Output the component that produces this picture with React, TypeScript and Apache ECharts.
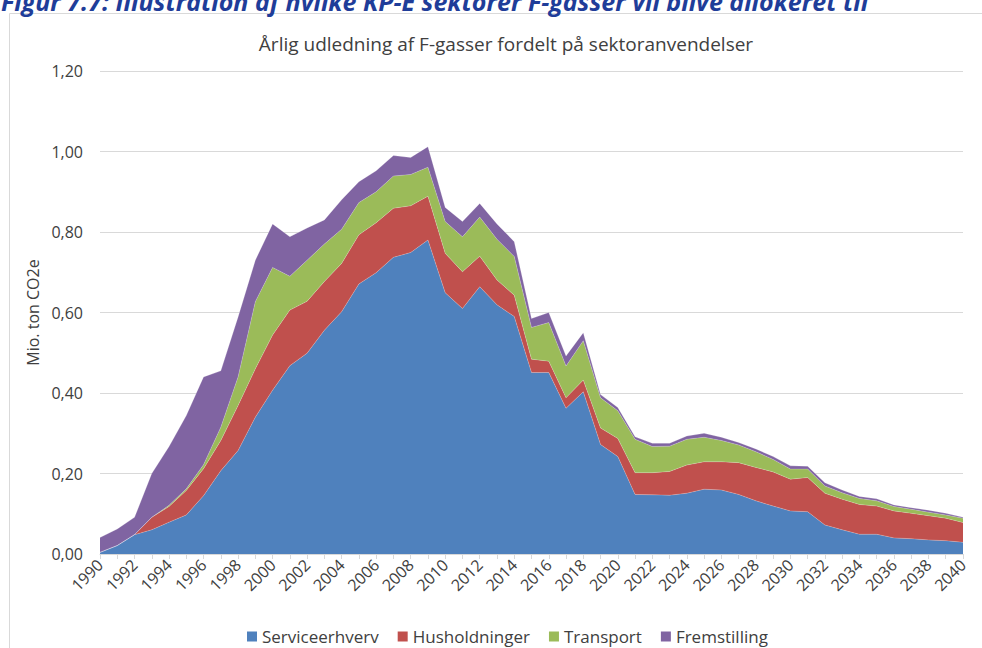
import React, { useEffect, useRef } from "react";
import * as echarts from "echarts";

const years: string[] = [];
for (let y = 1990; y <= 2040; y++) years.push(String(y));

const serviceerhverv = [
  0.004, 0.021, 0.048, 0.06, 0.079, 0.097, 0.145, 0.207, 0.257, 0.34,
  0.407, 0.468, 0.499, 0.556, 0.602, 0.671, 0.699, 0.737, 0.749, 0.78,
  0.649, 0.61, 0.664, 0.619, 0.59, 0.451, 0.451, 0.362, 0.403, 0.272,
  0.242, 0.148, 0.147, 0.146, 0.151, 0.161, 0.159, 0.148, 0.132, 0.119,
  0.107, 0.105, 0.072, 0.06, 0.049, 0.049, 0.04, 0.038, 0.035, 0.033, 0.029,
];
const husholdninger = [
  0, 0, 0, 0.031, 0.039, 0.061, 0.067, 0.075, 0.112, 0.12,
  0.137, 0.138, 0.129, 0.121, 0.12, 0.122, 0.124, 0.122, 0.116, 0.109,
  0.098, 0.091, 0.076, 0.062, 0.053, 0.033, 0.028, 0.026, 0.029, 0.041,
  0.045, 0.054, 0.055, 0.059, 0.07, 0.068, 0.07, 0.079, 0.083, 0.085,
  0.079, 0.085, 0.079, 0.076, 0.074, 0.07, 0.067, 0.063, 0.06, 0.056, 0.049,
];
const transport = [
  0, 0, 0, 0, 0.003, 0.004, 0.01, 0.033, 0.071, 0.167,
  0.168, 0.084, 0.102, 0.093, 0.085, 0.08, 0.077, 0.08, 0.078, 0.072,
  0.079, 0.087, 0.097, 0.101, 0.096, 0.079, 0.096, 0.079, 0.098, 0.075,
  0.069, 0.083, 0.065, 0.063, 0.064, 0.061, 0.053, 0.044, 0.039, 0.031,
  0.025, 0.021, 0.018, 0.016, 0.015, 0.013, 0.011, 0.01, 0.009, 0.008, 0.011,
];
const fremstilling = [
  0.037, 0.041, 0.043, 0.109, 0.146, 0.182, 0.218, 0.14, 0.149, 0.103,
  0.108, 0.098, 0.08, 0.06, 0.073, 0.052, 0.052, 0.051, 0.042, 0.051,
  0.035, 0.038, 0.034, 0.038, 0.037, 0.022, 0.025, 0.025, 0.02, 0.008,
  0.008, 0.006, 0.008, 0.007, 0.008, 0.01, 0.008, 0.006, 0.007, 0.007,
  0.008, 0.007, 0.008, 0.007, 0.005, 0.005, 0.004, 0.004, 0.005, 0.004, 0.002,
];

const seriesNames = ["Serviceerhverv", "Husholdninger", "Transport", "Fremstilling"];
const seriesData = [serviceerhverv, husholdninger, transport, fremstilling];
const colors = ["#4F81BD", "#C0504D", "#9BBB59", "#8064A2"];

const FONT = "'Open Sans', sans-serif";

export default function App() {
  const ref = useRef<HTMLDivElement>(null);
  useEffect(() => {
    if (!ref.current) return;
    const chart = echarts.init(ref.current, undefined, { renderer: "svg" });
    chart.setOption({
      animation: false,
      backgroundColor: "#ffffff",
      graphic: [
        {
          type: "rect",
          shape: { x: 9.5, y: 13.5, width: 1000, height: 700 },
          style: { fill: "none", stroke: "#D9D9D9", lineWidth: 1 },
          silent: true,
        },
        {
          type: "text",
          x: 1,
          y: 13,
          style: {
            text: "Figur 7.7: Illustration af hvilke KP-E sektorer F-gasser vil blive allokeret til",
            font: "italic bold 25px " + FONT,
            fill: "#1F3D99",
            verticalAlign: "bottom",
          },
        },
      ],
      title: {
        text: "Årlig udledning af F-gasser fordelt på sektoranvendelser",
        left: 501,
        top: 29,
        textAlign: "center",
        textStyle: { fontFamily: FONT, fontSize: 19, fontWeight: "normal", color: "#404040" },
      },
      legend: {
        data: seriesNames,
        left: 242,
        top: 623,
        icon: "rect",
        itemWidth: 10,
        itemHeight: 10,
        itemGap: 19,
        textStyle: { fontFamily: FONT, fontSize: 17, color: "#404040" },
      },
      grid: { left: 100, right: 19, top: 71, bottom: 94, containLabel: false },
      xAxis: {
        type: "category",
        data: years,
        boundaryGap: false,
        axisLine: { lineStyle: { color: "#D9D9D9" } },
        axisTick: { show: true, interval: 0, length: 5, lineStyle: { color: "#D9D9D9" } },
        axisLabel: {
          interval: 1,
          rotate: 45,
          fontFamily: FONT,
          fontSize: 16,
          color: "#404040",
          margin: 8,
        },
      },
      yAxis: {
        type: "value",
        min: 0,
        max: 1.2,
        interval: 0.2,
        name: "Mio. ton CO2e",
        nameLocation: "middle",
        nameGap: 53,
        nameTextStyle: { fontFamily: FONT, fontSize: 16, color: "#404040" },
        axisLine: { show: false },
        axisTick: { show: false },
        splitLine: { lineStyle: { color: "#D9D9D9" } },
        axisLabel: {
          fontFamily: FONT,
          fontSize: 16,
          color: "#404040",
          margin: 17,
          formatter: (v: number) => v.toFixed(2).replace(".", ","),
        },
      },
      series: seriesNames.map((name, i) => ({
        name,
        type: "line",
        stack: "total",
        data: seriesData[i],
        showSymbol: false,
        symbol: "none",
        lineStyle: { width: 0.6, color: "rgba(255,255,255,0.35)" },
        areaStyle: { color: colors[i], opacity: 1 },
        itemStyle: { color: colors[i] },
        z: 2,
      })),
    });
    return () => chart.dispose();
  }, []);
  return (
    <div
      ref={ref}
      style={{ position: "fixed", left: 0, top: 0, width: 982, height: 648 }}
    />
  );
}
